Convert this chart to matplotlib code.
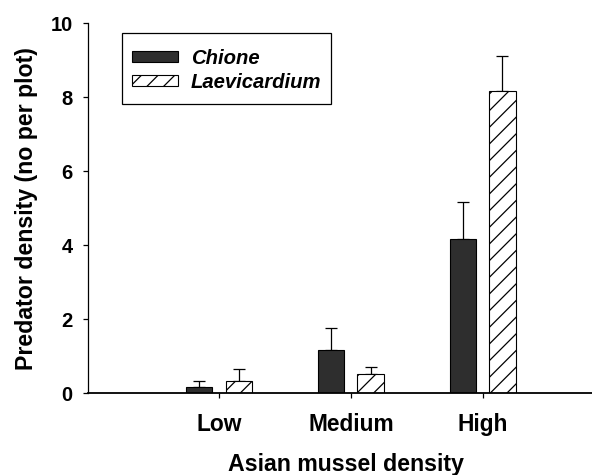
import matplotlib
matplotlib.use("Agg")
import matplotlib.pyplot as plt
from matplotlib.path import Path
from matplotlib.transforms import Affine2D
import numpy as np

plt.rcParams['font.family'] = ['Liberation Sans', 'DejaVu Sans']
plt.rcParams['hatch.linewidth'] = 0.9

categories = ["Low", "Medium", "High"]
chione_mean = [0.16, 1.17, 4.17]
chione_se = [0.18, 0.60, 1.01]
laevi_mean = [0.34, 0.51, 8.17]
laevi_se = [0.33, 0.21, 0.95]

fig = plt.figure(figsize=(5.92, 4.75), dpi=100)
ax = fig.add_axes([0.1481, 0.172, 0.8519, 0.7789])

x = np.arange(len(categories))
w = 0.2
off = 0.15

ax.bar(x - off, chione_mean, w, color="#2e2e2e", edgecolor="black", linewidth=0.8,
       label="Chione", zorder=2)
ax.bar(x + off, laevi_mean, w, color="white", edgecolor="black", linewidth=0.8,
       hatch="//", label="Laevicardium", zorder=2)

err_kw = dict(fmt="none", ecolor="black", elinewidth=0.9, capsize=4, capthick=0.9, zorder=1)
ax.errorbar(x - off, chione_mean, yerr=[np.zeros(3), chione_se], **err_kw)
ax.errorbar(x + off, laevi_mean, yerr=[np.zeros(3), laevi_se], **err_kw)

ax.set_xlim(-0.996, 2.829)
ax.set_ylim(0, 10)
ax.set_yticks([0, 2, 4, 6, 8, 10])
ax.set_xticks(x)
ax.set_xticklabels(categories, fontsize=16.4, fontweight="bold")
for lab in ax.get_yticklabels():
    lab.set_fontsize(14.5)
    lab.set_fontweight("bold")

ax.spines["top"].set_visible(False)
ax.spines["right"].set_visible(False)
ax.spines["left"].set_linewidth(0.9)
ax.spines["bottom"].set_linewidth(1.3)
ax.tick_params(axis="both", direction="out", length=3.6, width=0.9)
ax.tick_params(axis="x", pad=10.5)
ax.tick_params(axis="y", pad=7.2)

ax.set_xlabel("Asian mussel density", fontsize=16.7, fontweight="bold", labelpad=12.5)
ax.xaxis.label.set_x(0.513)
ax.set_ylabel("Predator density (no per plot)", fontsize=16.7, fontweight="bold", labelpad=9)


def tall_box(x0, y0, width, height, mutation_size):
    # square frame with extra room above the first entry and a little below the last
    top = 0.28 * mutation_size
    bottom = 0.08 * mutation_size
    return Path.unit_rectangle().transformed(
        Affine2D().scale(width, height + top + bottom).translate(x0, y0 - bottom))


leg = ax.legend(loc="upper left", bbox_to_anchor=(0.0674, 0.9592), borderaxespad=0,
                frameon=True, fancybox=False, edgecolor="black", framealpha=1,
                handlelength=2.3, handleheight=0.45, borderpad=0.5, labelspacing=0.26,
                handletextpad=0.6,
                prop={"size": 14.6, "weight": "bold", "style": "italic"})
leg.get_frame().set_boxstyle(tall_box)
leg.get_frame().set_linewidth(0.9)

fig.savefig("out.png", dpi=100)
